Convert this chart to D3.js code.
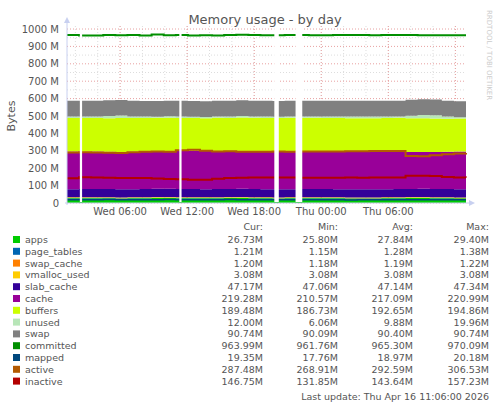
<!DOCTYPE html><html><head><meta charset="utf-8"><script src="https://cdn.jsdelivr.net/npm/d3@7"></script>
<style>body{margin:0;background:#fff}svg{font-family:"DejaVu Sans",sans-serif}</style></head><body><svg id="c" width="497" height="408"></svg>
<script>
const hours = d3.range(34); // sample index
const apps        =[27,27.5,28,27,26.5,27,28,28.5,29,28,27.5,27,28,28.5,29.4,28,27,26.5,27,28,28,27.5,27,26,25.8,26,27,28,28.5,29,28,27,26.7,26.7];
const page_tables =[1.2,1.2,1.25,1.3,1.3,1.3,1.3,1.35,1.38,1.3,1.3,1.25,1.25,1.3,1.3,1.3,1.25,1.2,1.2,1.2,1.25,1.3,1.3,1.3,1.25,1.2,1.2,1.15,1.2,1.25,1.3,1.3,1.21,1.21];
const swap_cache  =[1.2,1.2,1.2,1.19,1.19,1.19,1.2,1.2,1.2,1.21,1.22,1.2,1.2,1.19,1.19,1.19,1.2,1.2,1.2,1.2,1.19,1.19,1.18,1.18,1.18,1.19,1.19,1.2,1.2,1.2,1.2,1.2,1.2,1.2];
const vmalloc_used=[3.08,3.08,3.08,3.08,3.08,3.08,3.08,3.08,3.08,3.08,3.08,3.08,3.08,3.08,3.08,3.08,3.08,3.08,3.08,3.08,3.08,3.08,3.08,3.08,3.08,3.08,3.08,3.08,3.08,3.08,3.08,3.08,3.08,3.08];
const slab_cache  =[47.1,47.1,47.1,47.2,47.2,47.1,47.1,47.2,47.3,47.3,47.2,47.1,47.1,47.1,47.2,47.2,47.1,47.1,47.1,47.1,47.1,47.1,47.1,47.1,47.2,47.2,47.2,47.1,47.1,47.1,47.2,47.2,47.17,47.17];
const cache       =[216,214,216,215,213,215,217,218,217,220,221,219,217,218,216,215,216,217,216,217,216,216,216,218,219,219,220,220,212,211,213,215,217,219.3];
const buffers     =[193,195,192,193,196,194,191,190,191,188,187,189,192,190,193,194,193,192,194,192,193,193,193,191,190,190,189,189,194,194,192,190,189,189.5];
const unused      =[8,8,9,12,14,9,8,7,8,8,7,7,8,8,9,8,8,8,8,8,8,8,8,9,9,9,8,8,15,19,18,12,8,12];
const swap        =[90.7,90.6,90.5,90.4,90.3,90.2,90.1,90.1,90.2,90.3,90.4,90.4,90.4,90.4,90.4,90.4,90.4,90.5,90.5,90.5,90.5,90.5,90.5,90.5,90.5,90.5,90.6,90.6,90.6,90.6,90.7,90.7,90.74,90.74];
const committed   =[965,963,962,966,964,965,963,968,964,965,962,964,963,966,967,965,964,964,965,965,964,964,965,966,965,964,965,965,965,964,964,964,964,964];
const mapped      =[18.5,18.7,19,19.5,19,18.8,19,19.2,20.2,19,18.5,18.3,18.8,19.5,19.2,19,18.9,18.7,18.8,19,19,18.9,18.8,17.8,18,18.9,19.2,19,19,19.1,19.2,19.3,19.35,19.35];
const active      =[290,292,290,289,287,291,294,296,295,303,306,300,296,297,295,294,295,296,295,296,296,296,296,297,298,299,299,299,270,269,275,280,284,287.5];
const inactive    =[142,148,146,145,143,144,144,141,138,136,134,134,140,144,145,146,146,146,146,145,145,145,145,146,145,147,146,146,157,156,155,150,147,146.8];
const gaps = [[2.4,2.6],[11.3,11.5],[19.8,20.2],[21.7,22.3]]; // hours from Wed 00:00
const xTicks = ["Wed 06:00","Wed 12:00","Wed 18:00","Thu 00:00","Thu 06:00"];
const yTicks = [0,100,200,300,400,500,600,700,800,900,1000];
const stackNames=["apps","page_tables","swap_cache","vmalloc_used","slab_cache","cache","buffers","unused","swap"];
const stackData=[apps,page_tables,swap_cache,vmalloc_used,slab_cache,cache,buffers,unused,swap];
const lineNames=["committed","mapped","active","inactive"];
const lineData=[committed,mapped,active,inactive];
const colors={apps:"#00CC00",page_tables:"#0066B3",swap_cache:"#FF8000",vmalloc_used:"#FFCC00",slab_cache:"#330099",cache:"#990099",buffers:"#CCFF00",unused:"#B8E6B8",swap:"#808080",committed:"#008F00",mapped:"#00487D",active:"#B35A00",inactive:"#B30000"};
const legendRows=[["apps","26.73M","25.80M","27.84M","29.40M"],["page_tables","1.21M","1.15M","1.28M","1.38M"],["swap_cache","1.20M","1.18M","1.19M","1.22M"],["vmalloc_used","3.08M","3.08M","3.08M","3.08M"],["slab_cache","47.17M","47.06M","47.14M","47.34M"],["cache","219.28M","210.57M","217.09M","220.99M"],["buffers","189.48M","186.73M","192.65M","194.86M"],["unused","12.00M","6.06M","9.88M","19.96M"],["swap","90.74M","90.09M","90.40M","90.74M"],["committed","963.99M","961.76M","965.30M","970.09M"],["mapped","19.35M","17.76M","18.97M","20.18M"],["active","287.48M","268.91M","292.59M","306.53M"],["inactive","146.75M","131.85M","143.64M","157.23M"]];

const svg=d3.select("#c");
const L=67,R=466,T=29,B=203;
const t0=new Date(2026,3,15,0,0);
const H=h=>new Date(t0.getTime()+h*3600e3);
const startH=1.25, endH=36.95, step=(endH-startH)/33;
const times=hours.map(i=>H(startH+i*step));
const x=d3.scaleTime().domain([H(startH),H(endH)]).range([L,R]);
const y=d3.scaleLinear().domain([0,1000]).range([B,T]);
const hx=h=>x(H(h));

const g=svg.append("g");
d3.range(0,1001,50).forEach(v=>{ if(v%100) g.append("line").attr("x1",L).attr("x2",R).attr("y1",y(v)).attr("y2",y(v)).attr("stroke","#ddd").attr("stroke-dasharray","1,2");});
d3.range(2,37,2).forEach(h=>{g.append("line").attr("x1",hx(h)).attr("x2",hx(h)).attr("y1",T-3).attr("y2",B).attr("stroke","#ddd").attr("stroke-dasharray","1,2");});
yTicks.forEach(v=>g.append("line").attr("x1",L).attr("x2",R).attr("y1",y(v)).attr("y2",y(v)).attr("stroke","#e8a0a0").attr("stroke-dasharray","1,2"));
[6,12,18,24,30,36].forEach(h=>g.append("line").attr("x1",hx(h)).attr("x2",hx(h)).attr("y1",T-3).attr("y2",B).attr("stroke","#e8a0a0").attr("stroke-dasharray","1,2"));

const rows=hours.map(i=>{const o={t:times[i]};stackNames.forEach((n,k)=>o[n]=stackData[k][i]);return o;});
rows.push(Object.assign({},rows[33],{t:H(endH)}));
const series=d3.stack().keys(stackNames)(rows);
const area=d3.area().curve(d3.curveStepAfter).x(d=>x(d.data.t)).y0(d=>y(d[0])).y1(d=>y(d[1]));
svg.append("g").selectAll("path").data(series).join("path").attr("fill",d=>colors[d.key]).attr("d",area);
lineNames.forEach((n,k)=>{
  const vals=lineData[k].concat([lineData[k][33]]);
  const line=d3.line().curve(d3.curveStepAfter).x((d,i)=>x(rows[i].t)).y(d=>y(d));
  svg.append("path").attr("d",line(vals)).attr("fill","none").attr("stroke",colors[n]).attr("stroke-width",n==="mapped"?1.5:2);
});
gaps.forEach(([a,b])=>svg.append("rect").attr("x",hx(a)).attr("width",hx(b)-hx(a)).attr("y",T-3).attr("height",B-T+2).attr("fill","#fff"));

svg.append("line").attr("x1",L).attr("x2",L).attr("y1",B+2).attr("y2",T-8).attr("stroke","#c8d0f0");
svg.append("path").attr("d",`M${L-3},${T-6}L${L},${T-12}L${L+3},${T-6}Z`).attr("fill","#c8d0f0");
svg.append("line").attr("x1",L-2).attr("x2",R+4).attr("y1",B).attr("y2",B).attr("stroke","#c8d0f0");
svg.append("path").attr("d",`M${R+3},${B-3}L${R+9},${B}L${R+3},${B+3}Z`).attr("fill","#c8d0f0");
yTicks.forEach(v=>svg.append("text").attr("x",L-8).attr("y",y(v)+3.5).attr("text-anchor","end").attr("font-size",10).attr("fill","#555").text(v===0?"0":v+" M"));
xTicks.forEach((s,i)=>svg.append("text").attr("x",hx(6*(i+1))).attr("y",B+12).attr("text-anchor","middle").attr("font-size",10).attr("fill","#555").text(s));
svg.append("text").attr("x",265).attr("y",24).attr("text-anchor","middle").attr("font-size",13).attr("fill","#555").text("Memory usage - by day");
svg.append("text").attr("transform","translate(15,116) rotate(-90)").attr("text-anchor","middle").attr("font-size",11).attr("fill","#555").text("Bytes");
svg.append("text").attr("transform","translate(487,10) rotate(90)").attr("font-size",7).attr("fill","#ccc").text("RRDTOOL / TOBI OETIKER");

const cols=[263,338,413,489];
["Cur:","Min:","Avg:","Max:"].forEach((h,i)=>svg.append("text").attr("x",cols[i]).attr("y",230).attr("text-anchor","end").attr("font-size",9.5).attr("fill","#555").text(h));
legendRows.forEach((r,k)=>{
  const yy=243+k*11.8;
  svg.append("rect").attr("x",13).attr("y",yy-7).attr("width",7).attr("height",7).attr("fill",colors[r[0]]);
  svg.append("text").attr("x",25).attr("y",yy).attr("font-size",9.5).attr("fill","#555").text(r[0]);
  r.slice(1).forEach((v,i)=>svg.append("text").attr("x",cols[i]).attr("y",yy).attr("text-anchor","end").attr("font-size",9.5).attr("fill","#555").text(v));
});
svg.append("text").attr("x",489).attr("y",399.5).attr("text-anchor","end").attr("font-size",9.5).attr("fill","#555").text("Last update: Thu Apr 16 11:06:00 2026");
</script></body></html>
